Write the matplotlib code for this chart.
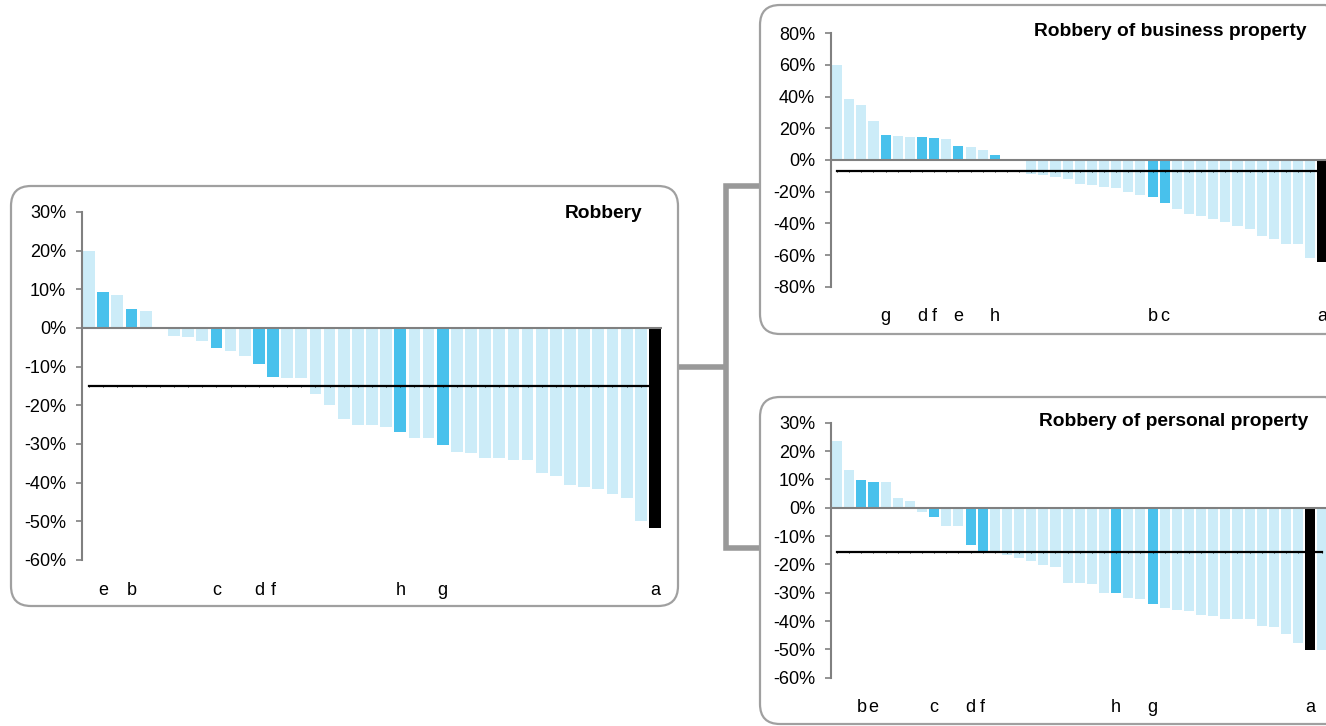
import matplotlib
matplotlib.use("Agg")
import matplotlib.pyplot as plt
import matplotlib.patches as mpatches
from matplotlib.lines import Line2D

plt.rcParams['font.family'] = ['Liberation Sans', 'DejaVu Sans']

# ---------------- data ----------------
robbery_values = [20.0, 9.3, 8.5, 4.8, 4.3, 0.0, -2.1, -2.3, -3.4, -5.2, -6.0, -7.3,
                  -9.3, -12.7, -13.0, -13.0, -17.1, -19.9, -23.6, -25.1, -25.1, -25.6,
                  -26.9, -28.5, -28.5, -30.3, -32.1, -32.4, -33.7, -33.7, -34.2, -34.2,
                  -37.6, -38.3, -40.7, -41.2, -41.7, -43.0, -44.0, -50.0, -51.6]
robbery_labels = {1: 'e', 3: 'b', 9: 'c', 12: 'd', 13: 'f', 22: 'h', 25: 'g', 40: 'a'}
robbery_black = [40]
robbery_mean = -14.9

business_values = [60.0, 38.7, 34.9, 24.8, 16.0, 15.3, 14.7, 14.7, 14.1, 13.5, 9.0, 8.4,
                   6.5, 3.3, 0.0, 0.0, -9.1, -9.7, -11.0, -12.2, -15.4, -16.0, -17.3,
                   -17.9, -20.5, -22.4, -23.6, -27.4, -31.2, -34.4, -35.6, -37.5, -39.4,
                   -41.9, -43.8, -48.2, -50.1, -53.3, -53.3, -62.1, -64.6]
business_labels = {4: 'g', 7: 'd', 8: 'f', 10: 'e', 13: 'h', 26: 'b', 27: 'c', 40: 'a'}
business_black = [40]
business_mean = -7.2

personal_values = [23.6, 13.4, 9.8, 9.2, 9.2, 3.5, 2.5, -1.4, -3.2, -6.4, -6.4, -13.1,
                   -15.2, -15.2, -16.6, -17.6, -18.7, -20.1, -20.8, -26.5, -26.5, -26.8,
                   -30.0, -30.0, -31.8, -32.1, -33.9, -35.3, -36.0, -36.4, -37.8, -38.1,
                   -39.2, -39.2, -39.2, -41.6, -42.0, -44.5, -47.6, -50.1, -50.1]
personal_labels = {2: 'b', 3: 'e', 8: 'c', 11: 'd', 12: 'f', 23: 'h', 26: 'g', 39: 'a'}
personal_black = [39]
personal_mean = -15.6

LIGHT = '#CCECF8'
DARK = '#48C1EC'
BLACK = '#000000'
GREY = '#808080'
PANEL = '#A0A0A0'
FS = 13

W, H = 1326, 726
fig = plt.figure(figsize=(W / 100, H / 100), dpi=100)


def px_axes(x0, y_top, x1, y_bot):
    ax = fig.add_axes([x0 / W, (H - y_bot) / H, (x1 - x0) / W, (y_bot - y_top) / H])
    ax.set_zorder(2)
    return ax


def draw_chart(ax, values, labels, black, mean, ylo, yhi, step):
    n = len(values)
    xs = list(range(n))
    colors = []
    for i in xs:
        if i in black:
            colors.append(BLACK)
        elif i in labels:
            colors.append(DARK)
        else:
            colors.append(LIGHT)
    ax.bar(xs, values, width=0.83, color=colors, zorder=2)
    ax.axhline(0, color=GREY, lw=1.5, zorder=3)
    ax.plot(xs, [mean] * n, color='black', lw=1.6, marker='|', markersize=2,
            markeredgewidth=0.6, zorder=4)
    ax.set_xlim(-0.5, n - 0.5)
    ax.set_ylim(ylo, yhi)
    ticks = list(range(ylo, yhi + 1, step))
    ax.set_yticks(ticks)
    ax.set_yticklabels([f'{t}%' for t in ticks], fontsize=FS)
    ax.set_xticks(sorted(labels))
    ax.set_xticklabels([labels[k] for k in sorted(labels)], fontsize=FS)
    ax.tick_params(axis='x', length=0, pad=15.5)
    ax.tick_params(axis='y', length=4, width=1.2, color=GREY, pad=7.5)
    for s in ('top', 'right', 'bottom'):
        ax.spines[s].set_visible(False)
    ax.spines['left'].set_color(GREY)
    ax.spines['left'].set_linewidth(1.5)
    ax.patch.set_alpha(0)


# panels (pixel coordinates, top-left origin)
def panel(x0, y_top, x1, y_bot):
    p = mpatches.FancyBboxPatch((x0 / 100, (H - y_bot) / 100), (x1 - x0) / 100,
                                (y_bot - y_top) / 100,
                                boxstyle='round,pad=0,rounding_size=0.2',
                                transform=fig.dpi_scale_trans, facecolor='none',
                                edgecolor=PANEL, lw=1.6, zorder=1)
    fig.patches.append(p)


panel(11, 186, 678, 606)
panel(760, 5, 1345, 334)
panel(760, 397, 1345, 724)

# connectors
def pline(xs, ys):
    fig.lines.append(Line2D([x / W for x in xs], [(H - y) / H for y in ys],
                            transform=fig.transFigure, color='#999999', lw=4,
                            solid_capstyle='butt', solid_joinstyle='miter', zorder=1))


pline([678, 726], [367, 367])
pline([760, 726, 726, 760], [186, 186, 548, 548])

ax1 = px_axes(82, 212, 662, 560)
draw_chart(ax1, robbery_values, robbery_labels, robbery_black, robbery_mean, -60, 30, 10)

ax2 = px_axes(831, 33.3, 1328.5, 286.7)
draw_chart(ax2, business_values, business_labels, business_black, business_mean, -80, 80, 20)

ax3 = px_axes(831, 422.7, 1328.5, 677.7)
draw_chart(ax3, personal_values, personal_labels, personal_black, personal_mean, -60, 30, 10)

TFS = 13.8
fig.text(642 / W, 1 - 213 / H, 'Robbery', ha='right', va='center', fontsize=TFS,
         fontweight='bold')
fig.text(1306 / W, 1 - 31 / H, 'Robbery of business property', ha='right', va='center',
         fontsize=TFS, fontweight='bold')
fig.text(1308 / W, 1 - 422 / H, 'Robbery of personal property', ha='right', va='center',
         fontsize=TFS, fontweight='bold')

fig.savefig('out.png', dpi=100)
